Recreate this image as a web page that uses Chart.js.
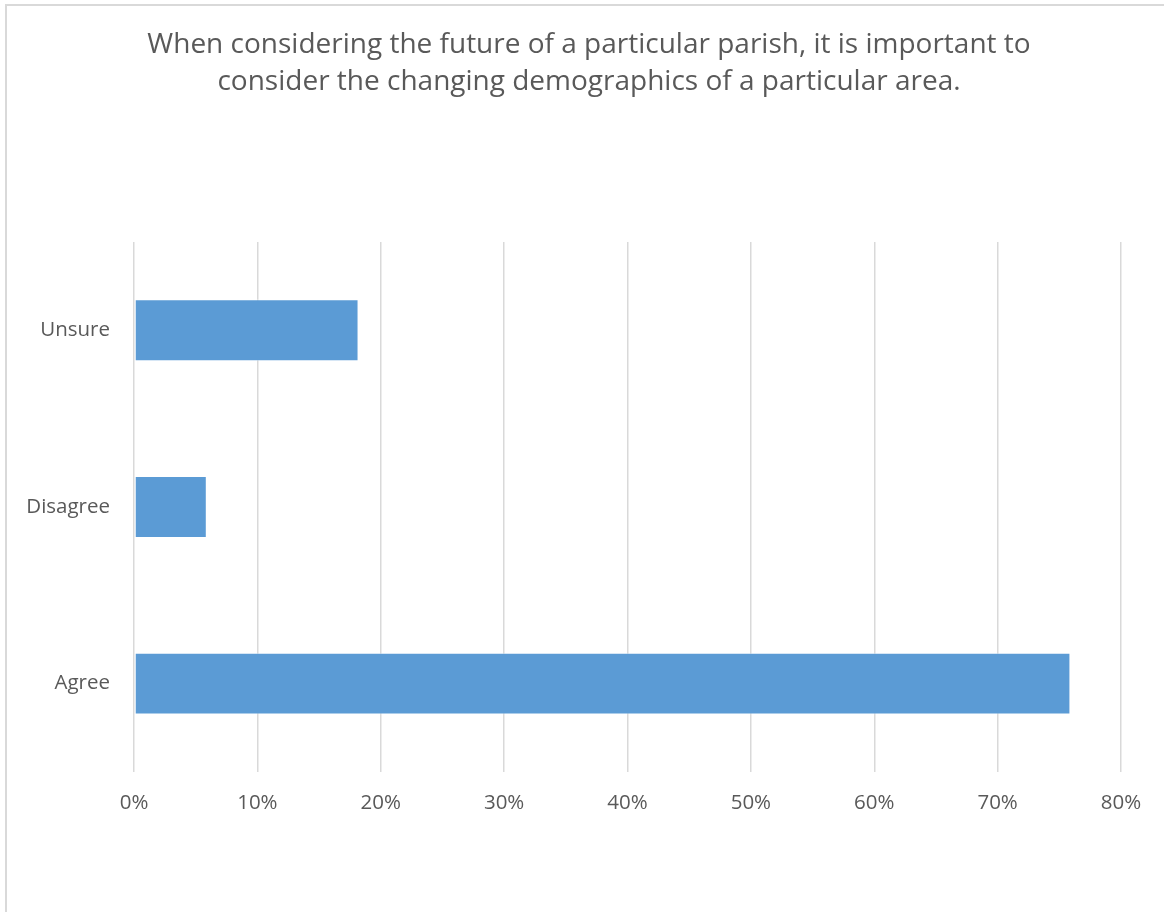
<!DOCTYPE html>
<html>
<head>
<meta charset="utf-8">
<script src="https://cdn.jsdelivr.net/npm/chart.js@4"></script>
<style>
  html, body { margin: 0; padding: 0; background: #fff; overflow: hidden; }
  #frame {
    position: absolute; left: 5px; top: 4px; width: 1300px; height: 1100px;
    border: 2px solid #d9d9d9; box-sizing: border-box;
  }
  #wrap { position: absolute; left: 0; top: 0; width: 1164px; height: 912px; }
</style>
</head>
<body>
<div id="frame"></div>
<div id="wrap"><canvas id="myBarChart" width="1164" height="912"></canvas></div>
<script>
// chart data
const categories = ['Unsure', 'Disagree', 'Agree'];
const shares = [18.2, 5.9, 75.9];
const tickValues = [0, 10, 20, 30, 40, 50, 60, 70, 80];
const titleLines = [
    'When considering the future of a particular parish, it is important to',
    'consider the changing demographics of a particular area.'
];

const textColor = '#595959';
const fontName = 'Open Sans';

var ctx = document.getElementById('myBarChart').getContext('2d');
var myBarChart = new Chart(ctx, {
    type: 'bar',
    data: {
        labels: categories,
        datasets: [{
            label: 'Share',
            data: shares,
            backgroundColor: '#5B9BD5',
            borderColor: 'rgba(255,255,255,0.5)',
            borderWidth: 1,
            borderSkipped: false,
            barPercentage: 0.35,
            categoryPercentage: 1.0
        }]
    },
    options: {
        indexAxis: 'y',
        responsive: false,
        animation: false,
        // small left padding pushes the title centre a bit right
        layout: { padding: { left: 14, right: 0, top: 0, bottom: 0 } },
        plugins: {
            legend: { display: false },
            tooltip: { enabled: false },
            title: {
                display: true,
                text: titleLines,
                color: textColor,
                font: { family: fontName, size: 28, weight: 'normal', lineHeight: 1.32 },
                padding: { top: 26.5, bottom: 141.5 }
            }
        },
        scales: {
            x: {
                min: 0,
                max: 80,
                afterBuildTicks: function (scale) {
                    scale.ticks = tickValues.map(v => ({ value: v }));
                },
                afterFit: function (scale) {
                    scale.height = 140;
                    scale.paddingRight = 43; // keep the plot ending at 80% like the original
                },
                ticks: {
                    color: textColor,
                    font: { family: fontName, size: 20.5 },
                    padding: 19,
                    callback: v => v + '%'
                },
                grid: { color: '#d9d9d9', lineWidth: 1.5, drawTicks: false },
                border: { display: false }
            },
            y: {
                afterFit: function (scale) { scale.width = 120; },
                ticks: {
                    color: textColor,
                    font: { family: fontName, size: 20.5 },
                    padding: 24
                },
                grid: { display: false, drawTicks: false },
                border: { display: false }
            }
        }
    }
});
</script>
</body>
</html>
